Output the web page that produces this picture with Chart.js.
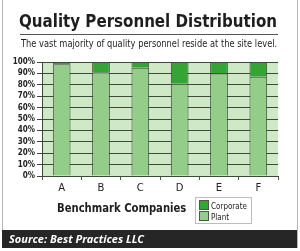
<!DOCTYPE html>
<html>
<head>
<meta charset="utf-8">
<script src="https://cdn.jsdelivr.net/npm/chart.js@4.4.1/dist/chart.umd.min.js"></script>
<style>
  body { margin: 0; width: 300px; height: 251px; background: #fff; position: relative; overflow: hidden; font-family: "DejaVu Sans", sans-serif; }
  #frame { position: absolute; left: 2px; top: 0; width: 294px; height: 248px; border-left: 1px solid #b5b5b5; border-right: 1px solid #b5b5b5; }
  #chartBox { position: absolute; left: 0; top: 0; width: 300px; height: 251px; }
  .fit { position: absolute; white-space: nowrap; transform-origin: 0 50%; color: #1e1e1e; }
  #title { left: 19px; top: 10px; font: 900 18px "DejaVu Sans", sans-serif; }
  #rule { position: absolute; left: 20px; top: 34px; width: 258px; height: 1px; background: #555; }
  #subtitle { left: 21px; top: 37px; font: 11px "DejaVu Sans", sans-serif; }
  #xtitle { left: 57px; top: 201px; font: bold 12px "DejaVu Sans", sans-serif; }
  #legend { position: absolute; left: 195px; top: 197px; width: 55px; height: 25px; border: 1px solid #bdbdbd; background: #fff; font: 8px "DejaVu Sans Condensed", "DejaVu Sans", sans-serif; color: #222; }
  #legend div { position: absolute; left: 3px; height: 10px; line-height: 10px; white-space: nowrap; }
  #legend span { display: inline-block; width: 8px; height: 8px; margin-right: 2px; vertical-align: -1px; border: 1px solid #4a5a4a; }
  #footer { position: absolute; left: 2px; top: 230px; width: 295px; height: 18px; background: #262626; }
  #source { position: absolute; left: 7px; top: 1px; font: italic bold 11px "Open Sans", sans-serif; color: #fff; line-height: 16px; }
</style>
</head>
<body>
<div id="frame"></div>
<div id="chartBox"><canvas id="qualityChart" width="300" height="251"></canvas></div>
<div id="title" class="fit">Quality Personnel Distribution</div>
<div id="rule"></div>
<div id="subtitle" class="fit">The vast majority of quality personnel reside at the site level.</div>
<div id="xtitle" class="fit">Benchmark Companies</div>
<div id="legend">
  <div style="top:2px"><span style="background:#34a534"></span>Corporate</div>
  <div style="top:13px"><span style="background:#93cd89"></span>Plant</div>
</div>
<div id="footer"><div id="source">Source: Best Practices LLC</div></div>
<script>
// values (percent of quality staff)
const companies = ['A', 'B', 'C', 'D', 'E', 'F'];
const plantShare = [98, 91, 95, 81, 90, 87];
const corporateShare = [2, 9, 5, 19, 10, 13];
const yTicks = [0, 10, 20, 30, 40, 50, 60, 70, 80, 90, 100];

// squeeze the heading texts to the widths in the picture
function fitText(id, width) {
  const el = document.getElementById(id);
  el.style.transform = 'scaleX(' + (width / el.offsetWidth) + ')';
}
fitText('title', 258);
fitText('subtitle', 256);
fitText('xtitle', 129);

// light green plot background
const plotBack = {
  id: 'plotBack',
  beforeDraw(chart) {
    const a = chart.chartArea;
    const ctx = chart.ctx;
    ctx.save();
    ctx.fillStyle = '#cfe9c7';
    ctx.fillRect(a.left, a.top, a.right - a.left, a.bottom - a.top);
    ctx.restore();
  }
};

const ctx = document.getElementById('qualityChart').getContext('2d');
const chart = new Chart(ctx, {
  type: 'bar',
  data: {
    labels: companies,
    datasets: [{
      label: 'Plant',
      data: plantShare,
      backgroundColor: '#93cd89',
      borderColor: '#3b4a3b',
      borderWidth: 1,
      barPercentage: 0.45,
      categoryPercentage: 1
    }, {
      label: 'Corporate',
      data: corporateShare,
      backgroundColor: '#34a534',
      borderColor: '#3b4a3b',
      borderWidth: 1,
      barPercentage: 0.45,
      categoryPercentage: 1
    }]
  },
  options: {
    responsive: false,
    animation: false,
    layout: { padding: { left: 0, top: 62, right: 22, bottom: 55 } },
    plugins: {
      legend: { display: false },
      tooltip: { enabled: false }
    },
    scales: {
      x: {
        stacked: true,
        afterFit(scale) { scale.height = 20; },
        grid: { drawOnChartArea: false, drawTicks: true, tickLength: 4, color: '#555' },
        border: { color: '#3b4a3b' },
        ticks: { color: '#222', font: { family: 'DejaVu Sans', size: 10 }, padding: 2 }
      },
      y: {
        stacked: true,
        min: 0,
        max: 100,
        afterFit(scale) { scale.width = 42; },
        afterBuildTicks(scale) { scale.ticks = yTicks.map(v => ({ value: v })); },
        grid: { color: '#3b4a3b', tickLength: 5 },
        border: { color: '#3b4a3b' },
        ticks: {
          autoSkip: false,
          color: '#222',
          padding: 2,
          font: { family: '"DejaVu Sans Condensed", "Liberation Sans Narrow", sans-serif', size: 8, weight: 'bold' },
          callback: v => v + '%'
        }
      }
    }
  },
  plugins: [plotBack]
});
</script>
</body>
</html>
